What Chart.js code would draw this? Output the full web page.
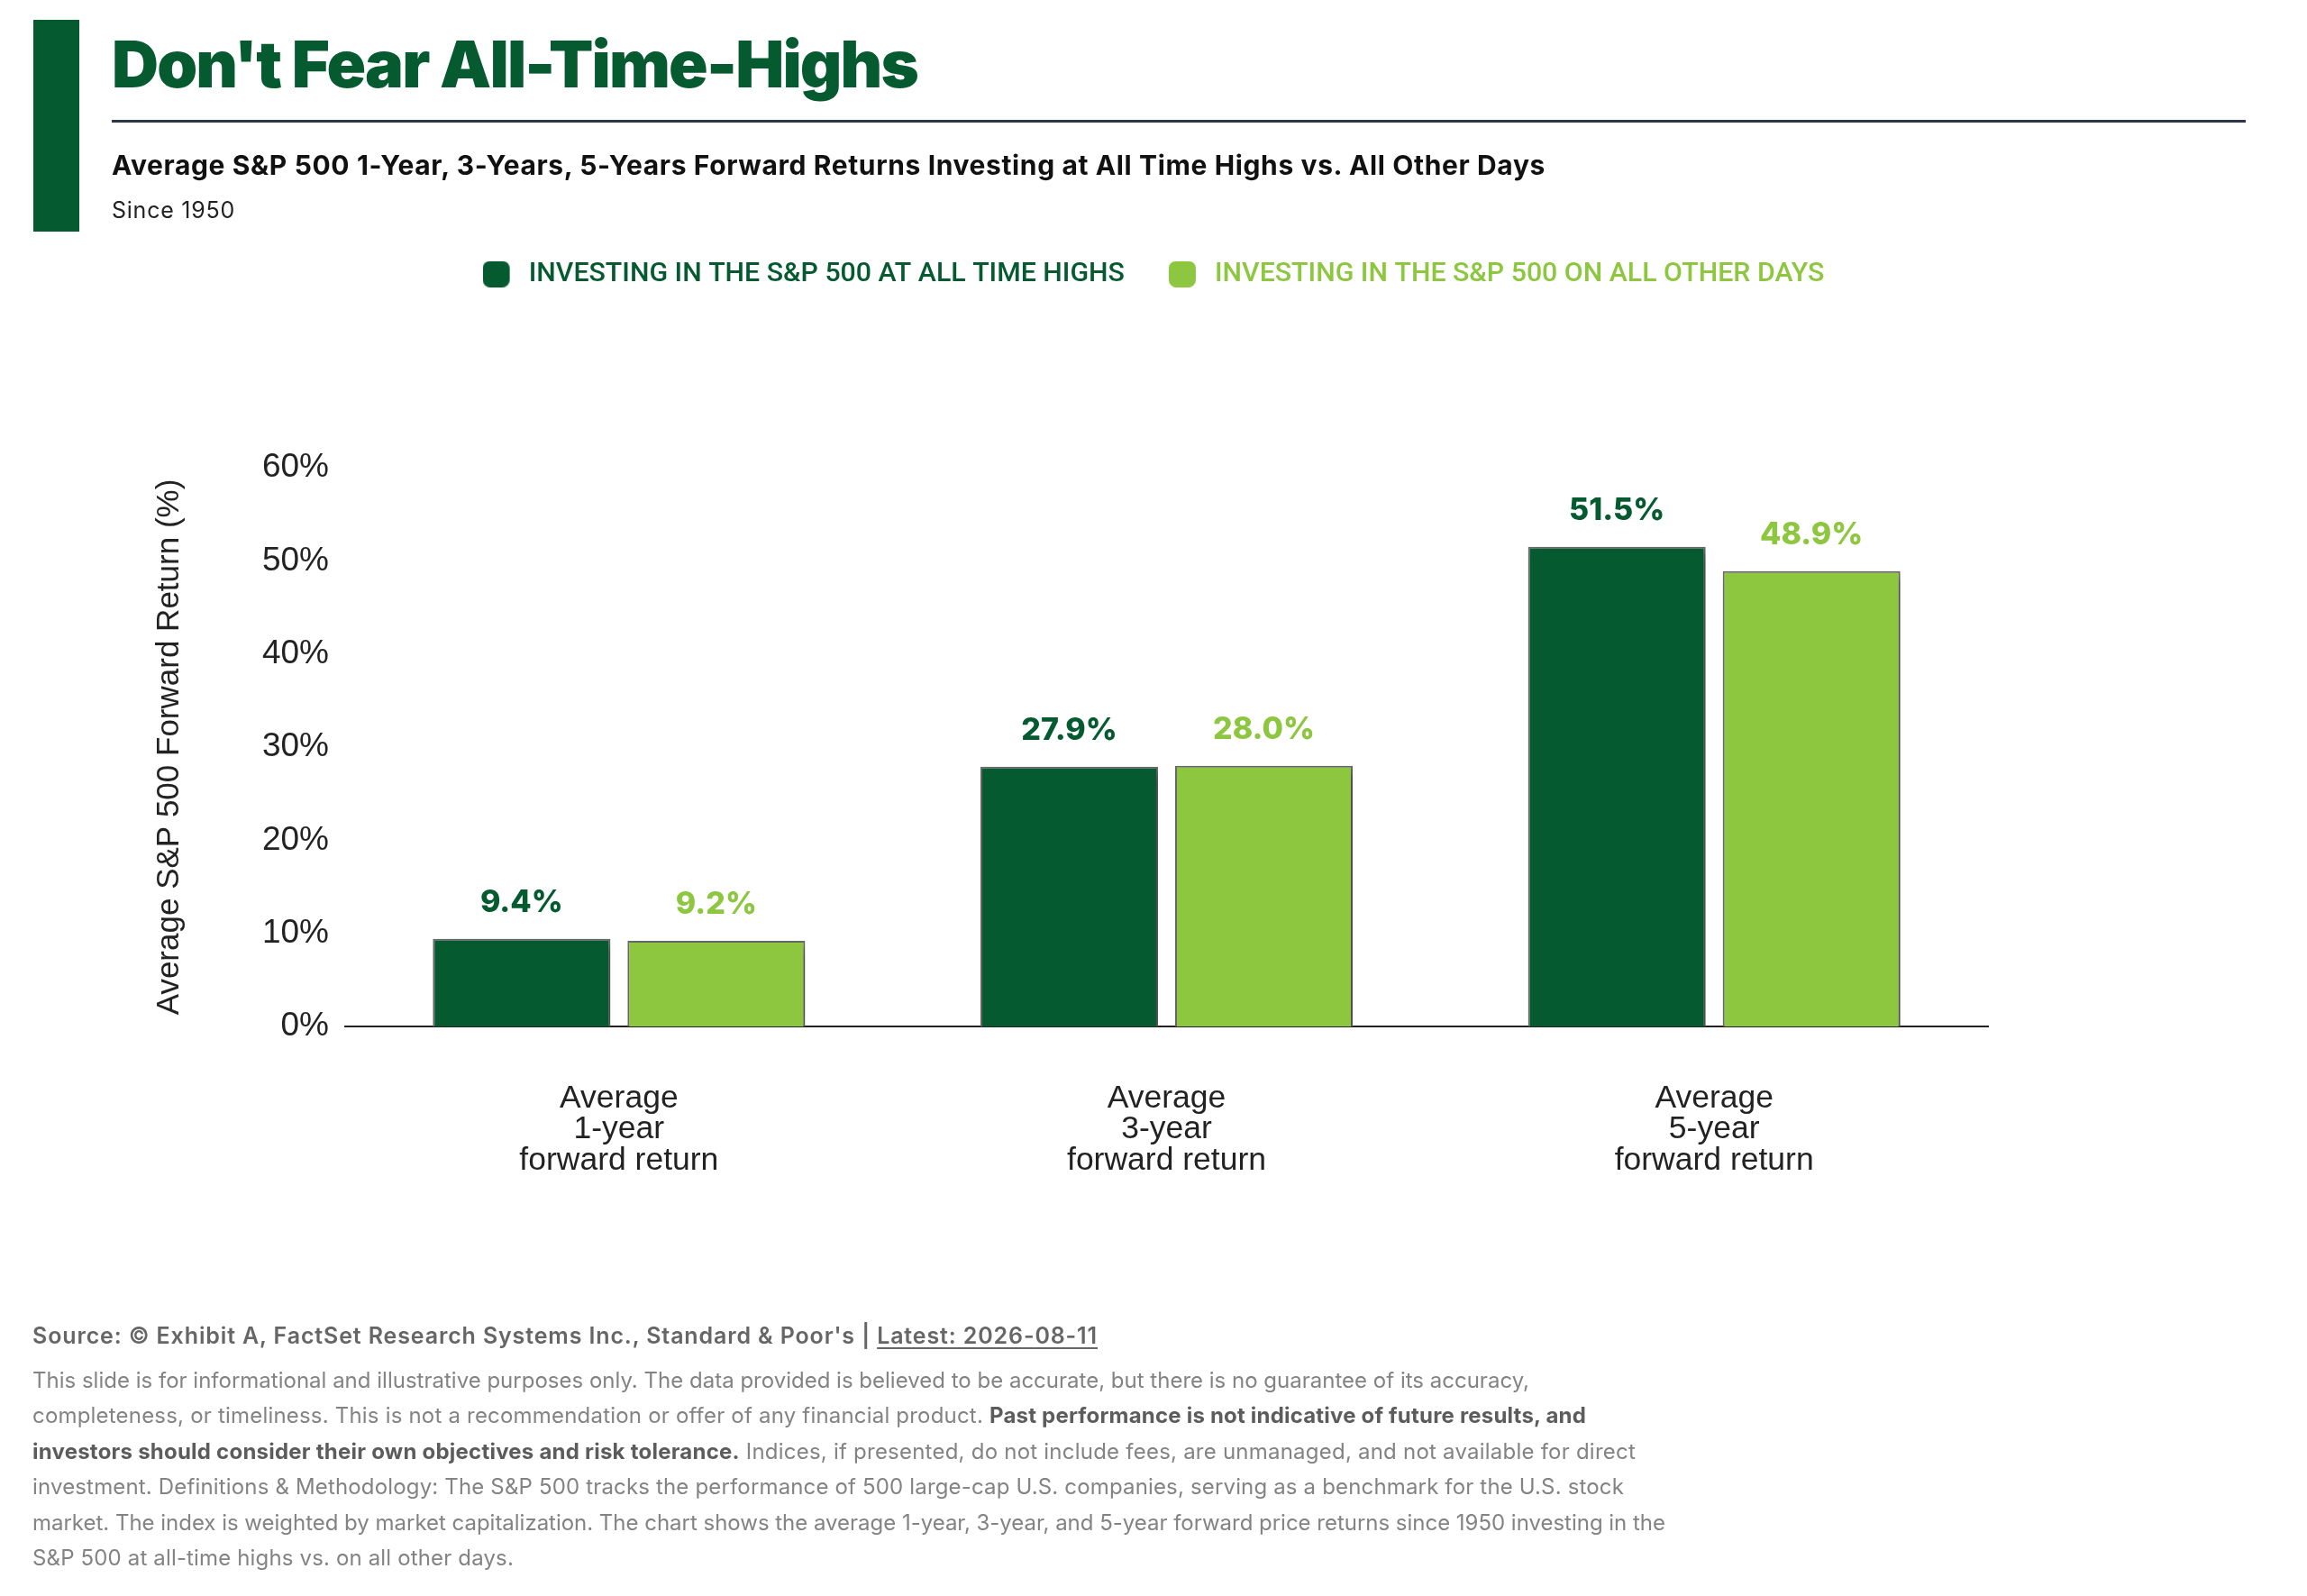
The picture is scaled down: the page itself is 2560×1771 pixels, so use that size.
<!DOCTYPE html>
<html>
<head>
<meta charset="utf-8">
<script src="https://cdn.jsdelivr.net/npm/chart.js@4.4.1/dist/chart.umd.min.js"></script>
<style>
html,body{margin:0;padding:0;background:#fff;}
body{width:2560px;height:1771px;position:relative;overflow:hidden;font-family:Inter,"Noto Sans",sans-serif;}
#wrap{position:absolute;left:0;top:0;width:2560px;height:1771px;}
.t{position:absolute;white-space:nowrap;line-height:1;}
#accent{position:absolute;left:37px;top:22px;width:51px;height:235px;background:#055a30;}
#title{left:124px;top:35px;font-size:72px;font-weight:900;color:#055a30;}
#rule{position:absolute;left:124px;top:133px;width:2368px;height:3px;background:#2b3746;}
#sub{left:124px;top:168px;font-size:30px;font-weight:700;color:#111;}
#since{left:124px;top:221px;font-size:25px;color:#222;}
#src{left:36px;top:1470px;font-size:25px;font-weight:600;color:#666;}
#src u{text-decoration-thickness:2px;text-underline-offset:4px;}
.d{left:36px;font-size:24px;color:#838383;}
.d b{color:#5c5c5c;font-weight:700;}
</style>
</head>
<body>
<div id="wrap"><canvas id="chart"></canvas></div>
<div id="accent"></div>
<div class="t fit" id="title" data-w="894">Don't Fear All-Time-Highs</div>
<div id="rule"></div>
<div class="t fit" id="sub" data-w="1591">Average S&amp;P 500 1-Year, 3-Years, 5-Years Forward Returns Investing at All Time Highs vs. All Other Days</div>
<div class="t fit" id="since" data-w="137">Since 1950</div>
<div class="t fit" id="src" data-w="1182">Source: © Exhibit A, FactSet Research Systems Inc., Standard &amp; Poor's | <u>Latest: 2026-08-11</u></div>
<div class="t d fit" style="top:1520px" data-w="1661">This slide is for informational and illustrative purposes only. The data provided is believed to be accurate, but there is no guarantee of its accuracy,</div>
<div class="t d fit" style="top:1559.4px" data-w="1724">completeness, or timeliness. This is not a recommendation or offer of any financial product. <b>Past performance is not indicative of future results, and</b></div>
<div class="t d fit" style="top:1598.8px" data-w="1779"><b>investors should consider their own objectives and risk tolerance.</b> Indices, if presented, do not include fees, are unmanaged, and not available for direct</div>
<div class="t d fit" style="top:1638.2px" data-w="1766">investment. Definitions &amp; Methodology: The S&amp;P 500 tracks the performance of 500 large-cap U.S. companies, serving as a benchmark for the U.S. stock</div>
<div class="t d fit" style="top:1677.6px" data-w="1812">market. The index is weighted by market capitalization. The chart shows the average 1-year, 3-year, and 5-year forward price returns since 1950 investing in the</div>
<div class="t d fit" style="top:1717px" data-w="534">S&amp;P 500 at all-time highs vs. on all other days.</div>

<script>
// ---- data ----
const categories = [
  ["Average", "1-year", "forward return"],
  ["Average", "3-year", "forward return"],
  ["Average", "5-year", "forward return"]
];
const seriesNames = [
  "INVESTING IN THE S&P 500 AT ALL TIME HIGHS",
  "INVESTING IN THE S&P 500 ON ALL OTHER DAYS"
];
const allTimeHighReturns = [9.4, 27.9, 51.5];
const otherDaysReturns = [9.2, 28.0, 48.9];
const yTickValues = [0, 10, 20, 30, 40, 50, 60];
const yAxisTitle = "Average S&P 500 Forward Return (%)";

// ---- styles ----
const DARK = '#055a30';
const LIGHT = '#8dc63f';
const AXIS_FONT = '"Liberation Sans", Arial, Helvetica, sans-serif';

// fit text widths
function fitAll() {
  document.querySelectorAll('.fit').forEach(el => {
    el.style.letterSpacing = '0px';
    const w = el.getBoundingClientRect().width;
    const n = el.textContent.length;
    const target = parseFloat(el.dataset.w);
    el.style.letterSpacing = ((target - w) / n) + 'px';
  });
}
fitAll();
if (document.fonts && document.fonts.ready) document.fonts.ready.then(fitAll);

// legend marker: rounded square with transparent space on its right
function makeMarker(color) {
  const cv = document.createElement('canvas');
  cv.width = 36; cv.height = 29;
  const c = cv.getContext('2d');
  c.fillStyle = color;
  c.beginPath();
  c.roundRect(0, 0, 30, 29, 8);
  c.fill();
  return cv;
}

const barShadow = {
  id: 'barShadow',
  beforeDatasetDraw(chart) {
    const c = chart.ctx;
    c.save();
    c.shadowColor = 'rgba(0,0,0,0.35)';
    c.shadowBlur = 11;
    c.shadowOffsetX = 5;
    c.shadowOffsetY = 5;
  },
  afterDatasetDraw(chart) { chart.ctx.restore(); }
};

const valueLabels = {
  id: 'valueLabels',
  afterDatasetsDraw(chart) {
    const c = chart.ctx;
    c.save();
    c.font = '800 34px Inter, sans-serif';
    c.textAlign = 'center';
    c.textBaseline = 'alphabetic';
    chart.data.datasets.forEach((ds, i) => {
      const meta = chart.getDatasetMeta(i);
      meta.data.forEach((el, j) => {
        c.fillStyle = ds.backgroundColor;
        c.fillText(ds.data[j].toFixed(1) + '%', el.x, el.y - 30);
      });
    });
    c.restore();
  }
};

const legendLayout = {
  id: 'legendLayout',
  beforeInit(chart) {
    const origFit = chart.legend.fit;
    chart.legend.fit = function () {
      origFit.call(this);
      this.height = 271 + 248 - 240;
    };
  },
  afterLayout(chart) {
    const lg = chart.legend;
    lg.left = 0; lg.right = 2560; lg.width = 2560;
  }
};

const markers = [makeMarker(DARK), makeMarker(LIGHT)];

new Chart(document.getElementById('chart'), {
  type: 'bar',
  data: {
    labels: categories,
    datasets: [
      { label: seriesNames[0], data: allTimeHighReturns, backgroundColor: DARK,
        borderColor: '#6a6a6a', borderWidth: 2,
        categoryPercentage: 0.711, barPercentage: 0.912 },
      { label: seriesNames[1], data: otherDaysReturns, backgroundColor: LIGHT,
        borderColor: '#6a6a6a', borderWidth: 2,
        categoryPercentage: 0.711, barPercentage: 0.912 }
    ]
  },
  options: {
    responsive: true,
    maintainAspectRatio: false,
    animation: false,
    devicePixelRatio: 1,
    layout: { padding: { top: 240, left: 164, right: 354, bottom: 411 } },
    plugins: {
      tooltip: { enabled: false },
      legend: {
        position: 'top',
        align: 'center',
        labels: {
          usePointStyle: true,
          pointStyleWidth: 36,
          boxWidth: 28,
          boxHeight: 28,
          padding: 49,
          font: { family: 'Roboto, sans-serif', size: 30.3, weight: '500' },
          generateLabels(chart) {
            return chart.data.datasets.map((ds, i) => ({
              text: ds.label,
              fillStyle: ds.backgroundColor,
              strokeStyle: 'rgba(0,0,0,0)',
              lineWidth: 0,
              fontColor: ds.backgroundColor,
              pointStyle: markers[i],
              hidden: false,
              datasetIndex: i
            }));
          }
        }
      }
    },
    scales: {
      x: {
        grid: { display: false, drawTicks: false },
        border: { display: true, color: '#222', width: 2 },
        ticks: {
          font: { family: AXIS_FONT, size: 35.5, lineHeight: 0.97 },
          color: '#222', padding: 63, maxRotation: 0, autoSkip: false
        },
        afterFit(s) { s.height = (1771 - 411) - 1139; }
      },
      y: {
        min: yTickValues[0],
        max: yTickValues[yTickValues.length - 1],
        grid: { display: false, drawTicks: false },
        border: { display: false },
        afterBuildTicks(s) { s.ticks = yTickValues.map(v => ({ value: v })); },
        ticks: {
          callback: v => v + '%',
          font: { family: AXIS_FONT, size: 37 },
          color: '#222', padding: 18
        },
        title: {
          display: true, text: yAxisTitle,
          font: { family: AXIS_FONT, size: 35 }, color: '#222',
          padding: { top: 3, bottom: 0 }
        },
        afterFit(s) { s.width = 383 - 164; }
      }
    }
  },
  plugins: [barShadow, valueLabels, legendLayout]
});
</script>
</body>
</html>
